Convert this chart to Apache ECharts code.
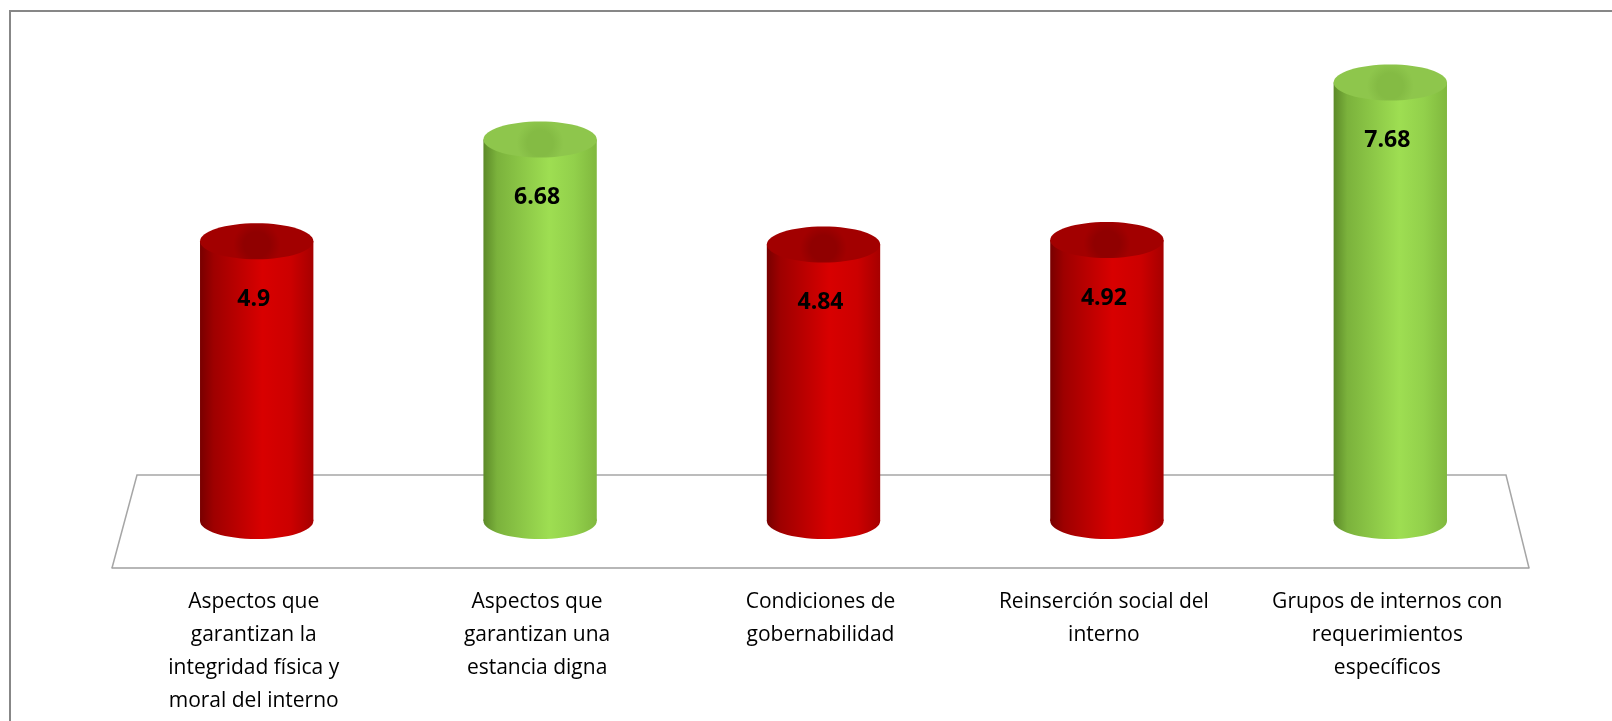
<!DOCTYPE html>
<html><head><meta charset="utf-8">
<script src="https://cdn.jsdelivr.net/npm/echarts@6/dist/echarts.min.js"></script>
<style>html,body{margin:0;padding:0;background:#fff;overflow:hidden}#c{width:1612px;height:721px}</style>
</head><body><div id="c"></div>
<script>
const categories = [
  'Aspectos que\ngarantizan la\nintegridad física y\nmoral del interno',
  'Aspectos que\ngarantizan una\nestancia digna',
  'Condiciones de\ngobernabilidad',
  'Reinserción social del\ninterno',
  'Grupos de internos con\nrequerimientos\nespecíficos'
];
const values = [4.9, 6.68, 4.84, 4.92, 7.68];
const greenThreshold = 6;

const palettes = {
  red: {
    body: [[0,'#780000'],[0.12,'#9e0000'],[0.55,'#d80000'],[0.8,'#cc0000'],[1,'#a60000']],
    topOuter: '#a20000', topInner: '#900000'
  },
  green: {
    body: [[0,'#5c8a28'],[0.12,'#7bb23c'],[0.58,'#9ede52'],[0.8,'#92d04b'],[1,'#80b83e']],
    topOuter: '#8ec64c', topInner: '#84bb44'
  }
};

const chart = echarts.init(document.getElementById('c'));
chart.setOption({
  backgroundColor: '#fff',
  animation: false,
  grid: { left: 112, right: 83, top: 7, bottom: 153 },
  xAxis: {
    type: 'category',
    data: categories,
    axisLine: { onZero: false, lineStyle: { color: '#a0a0a0', width: 1.5 } },
    axisTick: { length: 6, lineStyle: { color: '#a0a0a0', width: 1.5 } },
    axisLabel: { interval: 0, fontFamily: 'Open Sans', fontSize: 21, lineHeight: 33, color: '#000', margin: 18 }
  },
  yAxis: { type: 'value', min: -0.823, max: 9, show: false },
  graphic: [
    { type: 'rect', z: 0, shape: { x: 10, y: 11, width: 1800, height: 900 }, style: { fill: 'none', stroke: '#878787', lineWidth: 2 } },
    { type: 'polyline', z: 0, shape: { points: [[112,568],[137,475],[1506,475],[1529,568]] }, style: { fill: 'none', stroke: '#a6a6a6', lineWidth: 1.5 } }
  ],
  series: [{
    type: 'custom',
    z: 3,
    data: values.map((v, i) => [i, v]),
    renderItem: function (params, api) {
      const i = api.value(0), v = api.value(1);
      const top = api.coord([i, v]);
      const base = api.coord([i, 0]);
      const bw = api.size([1, 0])[0];
      const rx = bw * 0.2;
      const ry = 18;
      const cx = top[0] + 3;
      const p = v >= greenThreshold ? palettes.green : palettes.red;
      const grad = new echarts.graphic.LinearGradient(0, 0, 1, 0, p.body.map(s => ({ offset: s[0], color: s[1] })));
      const topGrad = new echarts.graphic.RadialGradient(0.5, 0.6, 0.65, [
        { offset: 0, color: p.topInner }, { offset: 0.55, color: p.topInner }, { offset: 1, color: p.topOuter }
      ]);
      return {
        type: 'group',
        children: [
          { type: 'ellipse', shape: { cx: cx, cy: base[1], rx: rx, ry: ry }, style: { fill: grad } },
          { type: 'rect', shape: { x: cx - rx, y: top[1], width: rx * 2, height: base[1] - top[1] }, style: { fill: grad } },
          { type: 'ellipse', shape: { cx: cx, cy: top[1], rx: rx, ry: ry }, style: { fill: topGrad } },
          { type: 'text', style: { text: String(v), x: cx - 3, y: top[1] + 58, align: 'center', verticalAlign: 'middle',
              fontFamily: 'Open Sans', fontWeight: 'bold', fontSize: 23, fill: '#000' } }
        ]
      };
    }
  }]
});
</script></body></html>
